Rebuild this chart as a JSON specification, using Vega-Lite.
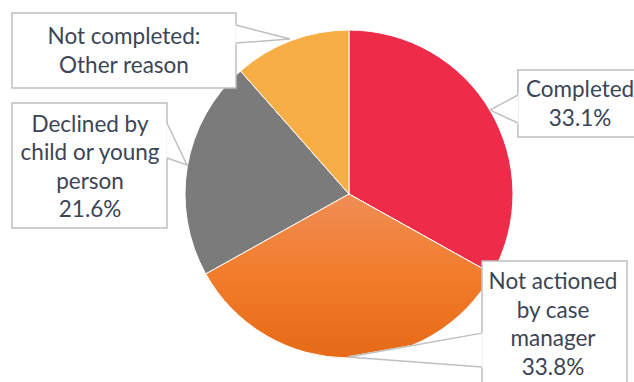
{
  "$schema": "https://vega.github.io/schema/vega-lite/v6.json",
  "width": 634,
  "height": 382,
  "autosize": {"type": "none"},
  "padding": 0,
  "background": "white",
  "config": {"view": {"stroke": null}},
  "datasets": {
    "slices": [
      {"category": "Completed", "value": 33.1, "order": 1},
      {"category": "Not actioned by case manager", "value": 33.8, "order": 2},
      {"category": "Declined by child or young person", "value": 21.6, "order": 3},
      {"category": "Not completed: Other reason", "value": 11.5, "order": 4}
    ],
    "boxes": [
      {"id": "other", "text": "Not completed:\nOther reason", "x1": -2.055, "x2": -0.689, "y1": 1.104, "y2": 0.646, "tx": -1.372, "ty": 0.957},
      {"id": "declined", "text": "Declined by\nchild or young\nperson\n21.6%", "x1": -2.055, "x2": -1.11, "y1": 0.555, "y2": -0.207, "tx": -1.579, "ty": 0.421},
      {"id": "completed", "text": "Completed\n33.1%", "x1": 1.03, "x2": 1.787, "y1": 0.756, "y2": 0.348, "tx": 1.409, "ty": 0.634},
      {"id": "notactioned", "text": "Not actioned\nby case\nmanager\n33.8%", "x1": 0.811, "x2": 1.695, "y1": -0.409, "y2": -1.18, "tx": 1.244, "ty": -0.537}
    ],
    "pointers": [
      {"id": "other", "seq": 1, "u": -0.689, "v": 1.03},
      {"id": "other", "seq": 2, "u": -0.36, "v": 0.945},
      {"id": "other", "seq": 3, "u": -0.689, "v": 0.921},
      {"id": "declined", "seq": 1, "u": -1.11, "v": 0.433},
      {"id": "declined", "seq": 2, "u": -0.988, "v": 0.177},
      {"id": "declined", "seq": 3, "u": -1.11, "v": 0.22},
      {"id": "completed", "seq": 1, "u": 1.03, "v": 0.604},
      {"id": "completed", "seq": 2, "u": 0.86, "v": 0.512},
      {"id": "completed", "seq": 3, "u": 1.03, "v": 0.433},
      {"id": "notactioned", "seq": 1, "u": 0.811, "v": -0.848},
      {"id": "notactioned", "seq": 2, "u": -0.006, "v": -0.994},
      {"id": "notactioned", "seq": 3, "u": 0.811, "v": -1.055}
    ]
  },
  "layer": [
    {
      "data": {"name": "slices"},
      "mark": {"type": "arc", "outerRadius": 164, "stroke": "white", "strokeWidth": 1},
      "encoding": {
        "theta": {"field": "value", "type": "quantitative", "stack": true},
        "order": {"field": "order", "type": "quantitative"},
        "color": {
          "field": "category", "type": "nominal", "legend": null,
          "scale": {
            "domain": ["Completed", "Not actioned by case manager", "Declined by child or young person", "Not completed: Other reason"],
            "range": ["#EE2B48", "#F27D2A", "#7B7B7B", "#F6AE45"]
          }
        },
        "x": {"datum": 0, "type": "quantitative", "axis": null, "scale": {"domain": [-2.128, 1.738], "nice": false, "zero": false}},
        "y": {"datum": 0, "type": "quantitative", "axis": null, "scale": {"domain": [-1.146, 1.183], "nice": false, "zero": false}}
      }
    },
    {
      "data": {"name": "slices"},
      "mark": {
        "type": "arc", "outerRadius": 164, "stroke": "white", "strokeWidth": 1,
        "color": {
          "gradient": "linear", "x1": 0, "y1": 0, "x2": 0, "y2": 1,
          "stops": [
            {"offset": 0, "color": "#F08E55"},
            {"offset": 0.5, "color": "#F27C2A"},
            {"offset": 1, "color": "#E66A17"}
          ]
        }
      },
      "encoding": {
        "theta": {"field": "value", "type": "quantitative", "stack": true},
        "order": {"field": "order", "type": "quantitative"},
        "opacity": {"condition": {"test": "datum.category === 'Not actioned by case manager'", "value": 1}, "value": 0},
        "x": {"datum": 0, "type": "quantitative", "axis": null, "scale": {"domain": [-2.128, 1.738], "nice": false, "zero": false}},
        "y": {"datum": 0, "type": "quantitative", "axis": null, "scale": {"domain": [-1.146, 1.183], "nice": false, "zero": false}}
      }
    },
    {
      "data": {"name": "boxes"},
      "mark": {"type": "rect", "fill": "white", "stroke": "#BFBFBF", "strokeWidth": 1.5},
      "encoding": {
        "x": {"field": "x1", "type": "quantitative", "axis": null, "scale": {"domain": [-2.128, 1.738], "nice": false, "zero": false}},
        "x2": {"field": "x2"},
        "y": {"field": "y1", "type": "quantitative", "axis": null, "scale": {"domain": [-1.146, 1.183], "nice": false, "zero": false}},
        "y2": {"field": "y2"}
      }
    },
    {
      "data": {"name": "pointers"},
      "mark": {"type": "line", "interpolate": "linear-closed", "filled": true, "fill": "white", "stroke": "white", "strokeWidth": 1.5},
      "encoding": {
        "x": {"field": "u", "type": "quantitative", "axis": null, "scale": {"domain": [-2.128, 1.738], "nice": false, "zero": false}},
        "y": {"field": "v", "type": "quantitative", "axis": null, "scale": {"domain": [-1.146, 1.183], "nice": false, "zero": false}},
        "detail": {"field": "id", "type": "nominal"},
        "order": {"field": "seq", "type": "quantitative"}
      }
    },
    {
      "data": {"name": "pointers"},
      "mark": {"type": "line", "stroke": "#BFBFBF", "strokeWidth": 1.5},
      "encoding": {
        "x": {"field": "u", "type": "quantitative", "axis": null, "scale": {"domain": [-2.128, 1.738], "nice": false, "zero": false}},
        "y": {"field": "v", "type": "quantitative", "axis": null, "scale": {"domain": [-1.146, 1.183], "nice": false, "zero": false}},
        "detail": {"field": "id", "type": "nominal"},
        "order": {"field": "seq", "type": "quantitative"}
      }
    },
    {
      "data": {"name": "boxes"},
      "mark": {"type": "text", "font": "Lato", "fontSize": 22.5, "color": "#3B4556", "lineBreak": "\n", "lineHeight": 28.5, "align": "center", "baseline": "middle"},
      "encoding": {
        "x": {"field": "tx", "type": "quantitative", "axis": null, "scale": {"domain": [-2.128, 1.738], "nice": false, "zero": false}},
        "y": {"field": "ty", "type": "quantitative", "axis": null, "scale": {"domain": [-1.146, 1.183], "nice": false, "zero": false}},
        "text": {"field": "text", "type": "nominal"}
      }
    }
  ]
}
